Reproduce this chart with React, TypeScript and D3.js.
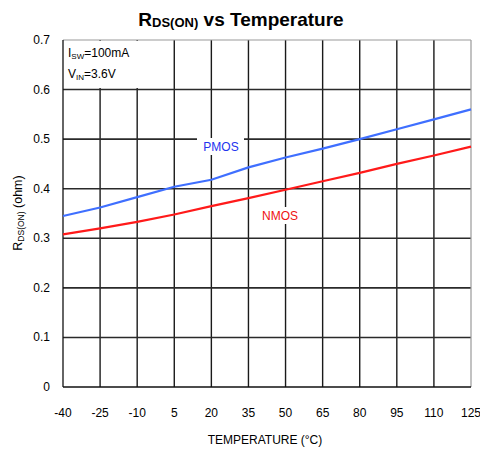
import React from "react";
import * as d3 from "d3";

const temps = [-40, -25, -10, 5, 20, 35, 50, 65, 80, 95, 110, 125];
const pmos = [0.345, 0.362, 0.383, 0.404, 0.418, 0.443, 0.463, 0.481, 0.5, 0.52, 0.54, 0.56];
const nmos = [0.308, 0.32, 0.333, 0.348, 0.365, 0.381, 0.398, 0.415, 0.432, 0.45, 0.467, 0.485];
const yTicks = [0, 0.1, 0.2, 0.3, 0.4, 0.5, 0.6, 0.7];
const xTicks = temps;

const W = 480, H = 450;
const L = 63, R = 471, T = 40, B = 387;
const FONT = "Liberation Sans, Arial, sans-serif";

export default function App() {
  const x = d3.scaleLinear().domain([-40, 125]).range([L, R]);
  const y = d3.scaleLinear().domain([0, 0.7]).range([B, T]);
  const line = d3.line<number>().x((_, i) => x(temps[i])).y((d) => y(d));

  return (
    <svg width={W} height={H} style={{ position: "absolute", left: 0, top: 0, background: "#fff" }} fontFamily={FONT}>
      <rect x={0} y={0} width={W} height={H} fill="#fff" />
      {/* grid */}
      {xTicks.slice(1, -1).map((t) => (
        <line key={"vx" + t} x1={x(t)} x2={x(t)} y1={T} y2={B} stroke="#1a1a1a" strokeWidth={1.4} />
      ))}
      {yTicks.slice(1, -1).map((t) => (
        <line key={"hy" + t} x1={L} x2={R} y1={y(t)} y2={y(t)} stroke="#2a2a2a" strokeWidth={1.6} />
      ))}
      {/* border */}
      <line x1={L} x2={R} y1={T} y2={T} stroke="#999" strokeWidth={1.2} />
      <line x1={R} x2={R} y1={T} y2={B} stroke="#999" strokeWidth={1.2} />
      <line x1={L} x2={L} y1={T} y2={B} stroke="#111" strokeWidth={1.3} />
      <line x1={L} x2={R} y1={B} y2={B} stroke="#111" strokeWidth={1.3} />
      {/* annotation box */}
      <rect x={L + 1} y={T + 1} width={82} height={47} fill="#fff" />
      <text x={68} y={57} fontSize={12} fill="#000">
        I<tspan fontSize={8} dy={2}>SW</tspan><tspan dy={-2}>=100mA</tspan>
      </text>
      <text x={68} y={78} fontSize={12} fill="#000">
        V<tspan fontSize={8} dy={2}>IN</tspan><tspan dy={-2}>=3.6V</tspan>
      </text>
      {/* series */}
      <path d={line(pmos) || ""} fill="none" stroke="#3f6fff" strokeWidth={2.2} />
      <path d={line(nmos) || ""} fill="none" stroke="#ff1a1a" strokeWidth={2.2} />
      {/* series labels */}
      <rect x={197} y={138} width={47} height={17} fill="#fff" />
      <text x={221} y={151} fontSize={12} fill="#2233ee" textAnchor="middle">PMOS</text>
      <rect x={256} y={207} width={47} height={17} fill="#fff" />
      <text x={280} y={220} fontSize={12} fill="#ee1111" textAnchor="middle">NMOS</text>
      {/* y tick labels */}
      {yTicks.map((t) => (
        <text key={"yl" + t} x={50} y={y(t) + 4} fontSize={12} textAnchor="end" fill="#000">
          {t === 0 ? "0" : t.toFixed(1)}
        </text>
      ))}
      {/* x tick labels */}
      {xTicks.map((t) => (
        <text key={"xl" + t} x={x(t)} y={417} fontSize={12} textAnchor="middle" fill="#000">
          {t}
        </text>
      ))}
      {/* axis titles */}
      <text x={265} y={444} fontSize={12} textAnchor="middle" fill="#000">TEMPERATURE (°C)</text>
      <text transform={`translate(22,${213}) rotate(-90)`} fontSize={12.5} textAnchor="middle" fill="#000">
        R<tspan fontSize={8.5} dy={2}>DS(ON)</tspan><tspan dy={-2}> (ohm)</tspan>
      </text>
      {/* title */}
      <text x={241} y={26} fontSize={19} fontWeight="bold" textAnchor="middle" fill="#000">
        R<tspan fontSize={13} dy={1}>DS(ON)</tspan><tspan dy={-1}> vs Temperature</tspan>
      </text>
    </svg>
  );
}
